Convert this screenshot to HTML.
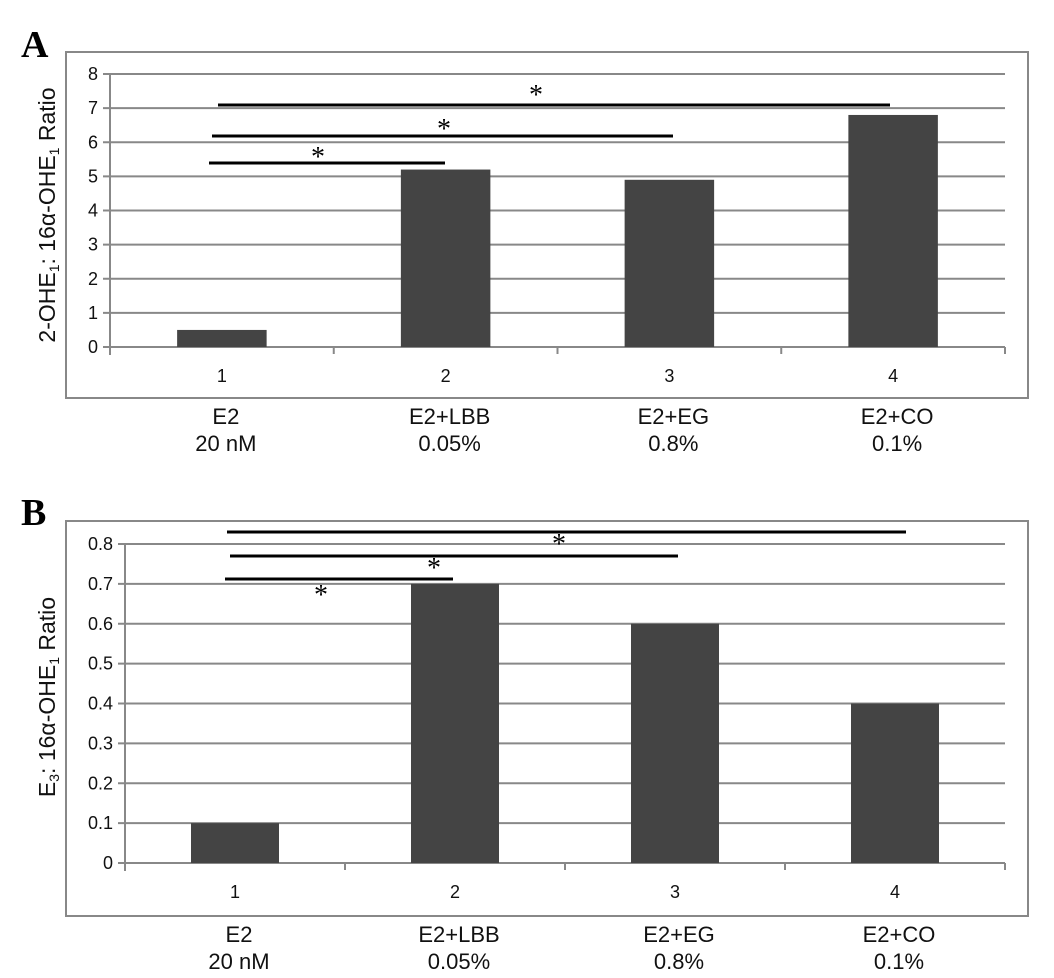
<!DOCTYPE html>
<html><head><meta charset="utf-8"><style>
body{margin:0;background:#fff;width:1054px;height:978px;overflow:hidden}
svg{display:block;font-family:"Liberation Sans",sans-serif}
</style></head><body>
<svg id="s" width="1054" height="978" xmlns="http://www.w3.org/2000/svg"></svg>
<script>
const categories=["1","2","3","4"];
const groupNames=["E2","E2+LBB","E2+EG","E2+CO"];
const groupDoses=["20 nM","0.05%","0.8%","0.1%"];
const valuesA=[0.5,5.2,4.9,6.8];
const valuesB=[0.1,0.7,0.6,0.4];
const ticksA=["0","1","2","3","4","5","6","7","8"];
const ticksB=["0","0.1","0.2","0.3","0.4","0.5","0.6","0.7","0.8"];
const NS="http://www.w3.org/2000/svg";
const svg=document.getElementById('s');
function mk(t,a,p){const e=document.createElementNS(NS,t);for(const k in a)e.setAttribute(k,a[k]);(p||svg).appendChild(e);return e;}
function panel(cfg){
  const g=mk('g',{});
  
  
  const fr=mk('rect',{x:66,y:cfg.ft,width:962,height:cfg.fb-cfg.ft,fill:'none',stroke:'#888','stroke-width':2},g);
  
  
  const lt=mk('text',{x:21,y:cfg.lb,'font-family':'Liberation Serif','font-weight':'bold','font-size':38,fill:'#000'},g);
  lt.textContent=cfg.letter;
  
  
  const x0=cfg.ax,x1=cfg.axR,y0=cfg.y0,yTop=cfg.yTop,max=cfg.max;
  const ys=v=>y0-(v/max)*(y0-yTop);
  const cw=(x1-x0)/categories.length;
  cfg.ticks.forEach((t,i)=>{
    const v=parseFloat(t);const y=ys(v);
    const gl=mk('line',{x1:x0-7,x2:x1,y1:y,y2:y,stroke:'#888','stroke-width':2},g);
    
    
    const tx=mk('text',{x:x0-12,y:y+6,'text-anchor':'end','font-size':18,fill:'#111'},g);
    tx.textContent=t;
    
    
  });
  mk('line',{x1:x0,x2:x0,y1:yTop,y2:y0+8,stroke:'#888','stroke-width':2},g);
  for(let i=1;i<=categories.length;i++){mk('line',{x1:x0+i*cw,x2:x0+i*cw,y1:y0,y2:y0+7,stroke:'#888','stroke-width':2},g);}
  cfg.values.forEach((v,i)=>{
    const cx=x0+cw*(i+0.5),bw=cw*0.4;
    const b=mk('rect',{x:cx-bw/2,y:ys(v),width:bw,height:y0-ys(v),fill:'#444'},g);
    
    
    const cl=mk('text',{x:cx,y:y0+35,'text-anchor':'middle','font-size':18,fill:'#111'},g);
    cl.textContent=categories[i];
    
    
    const n=mk('text',{x:cx+4,y:cfg.fb+26,'text-anchor':'middle','font-size':22,fill:'#111'},g);
    n.textContent=groupNames[i];
    
    
    const d=mk('text',{x:cx+4,y:cfg.fb+53,'text-anchor':'middle','font-size':22,fill:'#111'},g);
    d.textContent=groupDoses[i];
    
    
  });
  cfg.sig.forEach(s=>{
    const l=mk('line',{x1:s[0],x2:s[1],y1:s[2],y2:s[2],stroke:'#000','stroke-width':3},g);
    
    
    const st=mk('text',{x:s[3],y:s[4]+11,'text-anchor':'middle','font-family':'Liberation Serif','font-size':28,fill:'#000'},g);
    st.textContent='*';
    
    
  });
  const yt=mk('text',{transform:`translate(${cfg.tx},${cfg.ty}) rotate(-90)`,'text-anchor':'middle','font-size':23,fill:'#111'},g);
  yt.innerHTML=cfg.title;
  
  
}
panel({name:'panel-a',letter:'A',ft:52,fb:398,lb:57,ax:110,axR:1005,y0:347,yTop:74,max:8,ticks:ticksA,values:valuesA,
  sig:[[209,445,163,318,155],[212,673,136,444,127],[218,890,105,536,93]],
  tx:55,ty:215,title:'2-OHE<tspan font-size="14" dy="4">1</tspan><tspan dy="-4">: 16α-OHE</tspan><tspan font-size="14" dy="4">1</tspan><tspan dy="-4"> Ratio</tspan>'});
panel({name:'panel-b',letter:'B',ft:521,fb:916,lb:525,ax:125,axR:1005,y0:863,yTop:544,max:0.8,ticks:ticksB,values:valuesB,
  sig:[[225,453,579,321,593],[230,678,556,434,566],[227,906,532,559,542]],
  tx:55,ty:697,title:'E<tspan font-size="14" dy="4">3</tspan><tspan dy="-4">: 16α-OHE</tspan><tspan font-size="14" dy="4">1</tspan><tspan dy="-4"> Ratio</tspan>'});
</script>
</body></html>
